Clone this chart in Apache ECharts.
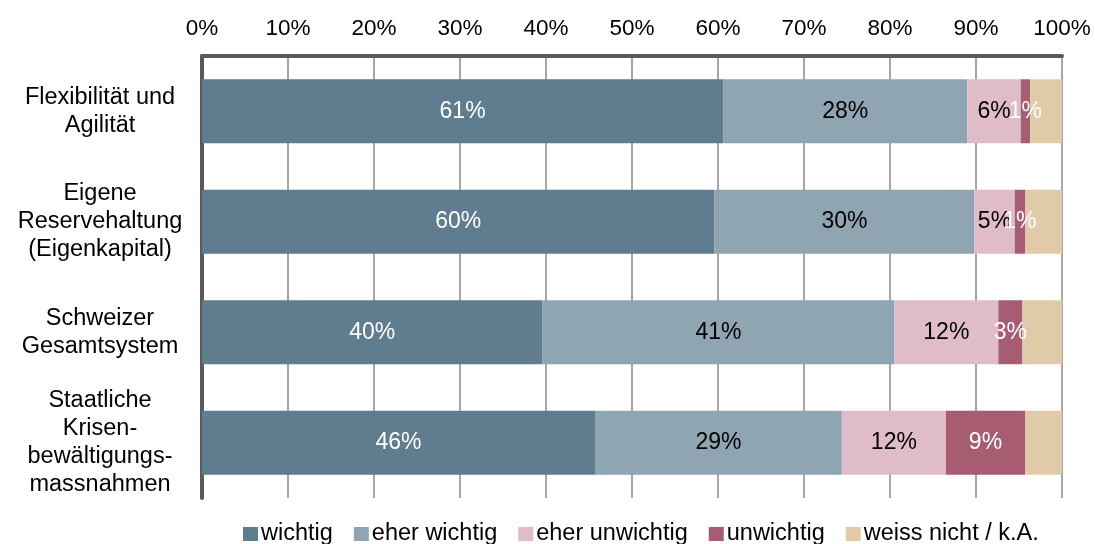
<!DOCTYPE html>
<html>
<head>
<meta charset="utf-8">
<script src="https://cdn.jsdelivr.net/npm/echarts@6/dist/echarts.min.js"></script>
<style>html,body{margin:0;padding:0;background:#fff}#c{width:1095px;height:544px}</style>
</head>
<body>
<div id="c"></div>
<script>
const categories = ['Flexibilität und\nAgilität', 'Eigene\nReservehaltung\n(Eigenkapital)', 'Schweizer\nGesamtsystem', 'Staatliche\nKrisen-\nbewältigungs-\nmassnahmen'];
const seriesNames = ['wichtig', 'eher wichtig', 'eher unwichtig', 'unwichtig', 'weiss nicht / k.A.'];
const wichtig = [60.6, 59.6, 39.6, 45.7];
const eherWichtig = [28.4, 30.2, 40.9, 28.7];
const eherUnwichtig = [6.2, 4.7, 12.1, 12.1];
const unwichtig = [1.1, 1.2, 2.8, 9.2];
const weissNicht = [3.7, 4.3, 4.6, 4.3];
const tickLabels = ['0%', '10%', '20%', '30%', '40%', '50%', '60%', '70%', '80%', '90%', '100%'];

const seriesData = [wichtig, eherWichtig, eherUnwichtig, unwichtig, weissNicht];
const colors = ['#5f7d8f', '#8fa5b1', '#dfbcc8', '#a85c72', '#e0cba8'];
const labelColors = ['#ffffff', '#000000', '#000000', '#ffffff', '#000000'];
const FONT = '"Liberation Sans", Arial, sans-serif';

const chart = echarts.init(document.getElementById('c'), null, {renderer: 'canvas'});
chart.setOption({
  animation: false,
  textStyle: {fontFamily: FONT},
  grid: {left: 202, right: 33, top: 56, bottom: 46, containLabel: false},
  legend: {
    data: seriesNames,
    left: 243, top: 521, padding: 0,
    icon: 'rect', itemWidth: 15, itemHeight: 14, itemGap: 21,
    textStyle: {fontSize: 23.5, lineHeight: 26, color: '#000', fontFamily: FONT, padding: [0, 0, 0, -2]}
  },
  xAxis: {
    type: 'value', position: 'top', min: 0, max: 100, interval: 10,
    axisLine: {show: true, onZero: false, lineStyle: {color: '#5a5a5a', width: 4}},
    axisTick: {show: false},
    axisLabel: {fontSize: 22.5, color: '#000', margin: 16, fontFamily: FONT,
      formatter: v => tickLabels[Math.round(v / 10)]},
    splitLine: {show: true, lineStyle: {color: '#8a8a8a', width: 1.5}}
  },
  yAxis: {
    type: 'category', data: categories, inverse: true,
    axisLine: {show: true, lineStyle: {color: '#5a5a5a', width: 4}},
    axisTick: {show: false},
    axisLabel: {fontSize: 23.5, color: '#000', align: 'center', margin: 102, lineHeight: 28, fontFamily: FONT}
  },
  series: seriesData.map((d, i) => ({
    name: seriesNames[i], type: 'bar', stack: 'total', data: d, barWidth: 64,
    itemStyle: {color: colors[i]},
    label: {show: i < 4, position: 'inside', color: labelColors[i], fontSize: 23, fontFamily: FONT,
      formatter: p => Math.round(p.value) + '%'}
  }))
});
</script>
</body>
</html>
